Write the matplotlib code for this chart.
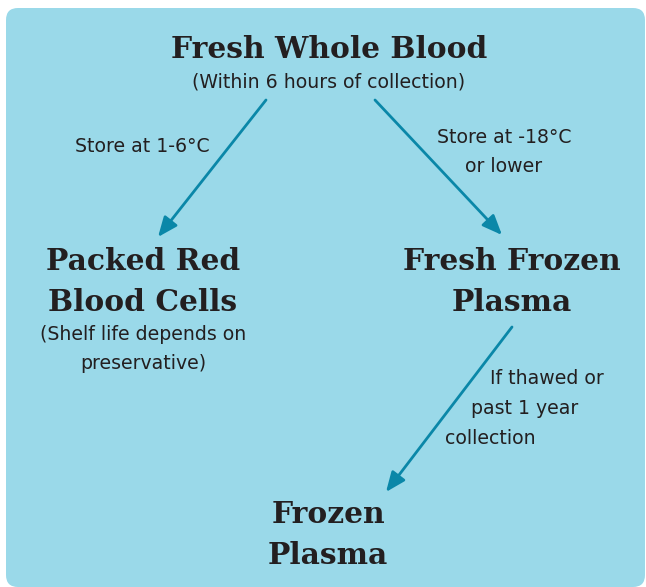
import matplotlib.pyplot as plt
from matplotlib.patches import FancyBboxPatch

# node titles and notes
titles = ["Fresh Whole Blood", "Packed Red\nBlood Cells", "Fresh Frozen\nPlasma", "Frozen\nPlasma"]
title_pos = [(329, 50), (143, 282), (512, 282), (328, 535)]
notes = ["(Within 6 hours of collection)", "(Shelf life depends on\npreservative)"]
note_pos = [(329, 82), (143, 349)]

# arrows (start, end) and their labels
arrows = [((266, 100), (158, 237)), ((375, 100), (502, 235)), ((512, 327), (386, 492))]
labels = ["Store at 1-6°C", "Store at -18°C\nor lower"]
label_pos = [(142, 146), (504, 152)]
side_lines = ["If thawed or", "past 1 year", "collection"]
side_pos = [(490, 379), (471, 409), (445, 438)]

bg = "#9ad9e9"
teal = "#0a87a8"
ink = "#231f20"
sans = "DejaVu Sans"

fig = plt.figure(figsize=(6.46, 5.87), dpi=100)
ax = fig.add_axes([0, 0, 1, 1])
ax.set_xlim(0, 646)
ax.set_ylim(587, 0)
ax.axis("off")

box = FancyBboxPatch((6, 8), 639, 579, boxstyle="round,pad=0,rounding_size=12",
                     fc=bg, ec="none")
ax.add_patch(box)

for t, (x, y) in zip(titles, title_pos):
    ax.text(x, y, t, ha="center", va="center", fontsize=21.4, fontweight="bold",
            family="DejaVu Serif", color=ink, linespacing=1.5)

for t, (x, y) in zip(notes, note_pos):
    ax.text(x, y, t, ha="center", va="center", fontsize=13.6, family=sans,
            color=ink, linespacing=1.7)

for t, (x, y) in zip(labels, label_pos):
    ax.text(x, y, t, ha="center", va="center", fontsize=13.6, family=sans,
            color=ink, linespacing=1.7)

for t, (x, y) in zip(side_lines, side_pos):
    ax.text(x, y, t, ha="left", va="center", fontsize=13.6, family=sans, color=ink)

for (x0, y0), (x1, y1) in arrows:
    ax.annotate("", xy=(x1, y1), xytext=(x0, y0),
                arrowprops=dict(arrowstyle="-|>,head_length=1.2,head_width=0.5",
                                color=teal, lw=2.0, shrinkA=0, shrinkB=0))

fig.savefig("out.png", dpi=100)
